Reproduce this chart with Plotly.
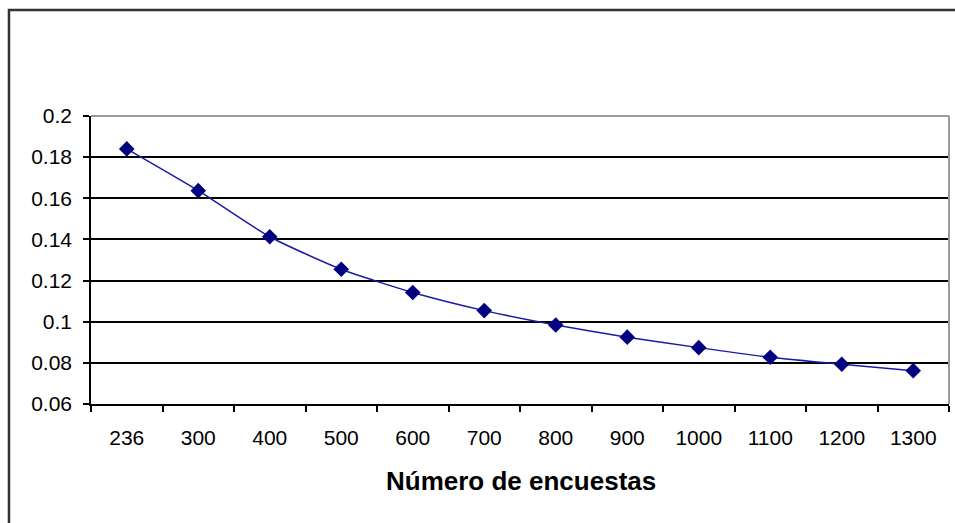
import plotly.graph_objects as go

categories = ["236", "300", "400", "500", "600", "700", "800", "900", "1000", "1100", "1200", "1300"]
values = [0.184, 0.1637, 0.1413, 0.1255, 0.1142, 0.1054, 0.0984, 0.0925, 0.0874, 0.0827, 0.0793, 0.0762]
y_ticks = [0.06, 0.08, 0.1, 0.12, 0.14, 0.16, 0.18, 0.2]
x_title = "Número de encuestas"

FONT = "Liberation Sans, Arial, sans-serif"

fig = go.Figure()
fig.add_trace(go.Scatter(
    x=categories, y=values, mode="lines+markers",
    line=dict(color="#1a1aa6", width=1.5, shape="spline", smoothing=0.6),
    marker=dict(symbol="diamond", size=12, color="#000080"),
    showlegend=False, hoverinfo="x+y",
))

fig.update_layout(
    width=955, height=523,
    margin=dict(l=91, r=6, t=116, b=119),
    paper_bgcolor="white", plot_bgcolor="white",
    font=dict(family=FONT, size=21, color="black"),
    xaxis=dict(
        type="category", tickson="boundaries", ticks="outside", ticklen=6,
        tickwidth=1.5, tickcolor="black", showgrid=False,
        showline=True, linecolor="black", linewidth=1.5,
        ticklabelstandoff=14, tickfont=dict(size=21),
        range=[-0.5, 11.5], fixedrange=True,
    ),
    yaxis=dict(
        range=[0.06, 0.2], tickvals=y_ticks, ticks="outside", ticklen=6,
        tickwidth=1.5, tickcolor="black",
        showgrid=True, gridcolor="black", gridwidth=1.5,
        showline=True, linecolor="black", linewidth=1.5,
        ticklabelstandoff=7, tickfont=dict(size=21), zeroline=False,
    ),
    annotations=[dict(
        text="<b>" + x_title + "</b>", xref="paper", yref="paper",
        x=0.501, y=-0.267, xanchor="center", yanchor="middle",
        showarrow=False, font=dict(family=FONT, size=26, color="black"),
    )],
    shapes=[
        # plot area top and right border (grey)
        dict(type="line", xref="paper", yref="paper", x0=0, x1=1, y0=1, y1=1,
             line=dict(color="#9a9a9a", width=2), layer="above"),
        dict(type="line", xref="paper", yref="paper", x0=1, x1=1, y0=0, y1=1,
             line=dict(color="#9a9a9a", width=2), layer="above"),
        # outer chart border
        dict(type="rect", xref="paper", yref="paper", x0=-0.0956, x1=1.5,
             y0=-1.0, y1=1.368, line=dict(color="#333333", width=2.5),
             fillcolor="rgba(0,0,0,0)", layer="above"),
    ],
)

fig.write_html(
    "out.html",
    config={"displayModeBar": False},
    post_script="document.body.style.margin='0';document.body.style.overflow='hidden';",
)
